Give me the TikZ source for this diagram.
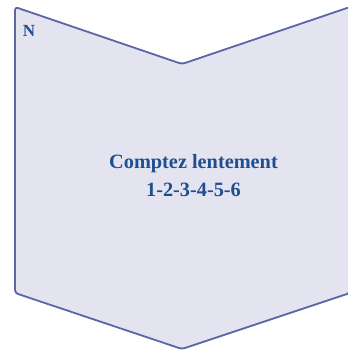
\documentclass[tikz,border=0pt]{standalone}
\usepackage{fontspec}
\setmainfont{Liberation Serif}
\definecolor{shapefill}{HTML}{E4E3F0}
\definecolor{shapedraw}{HTML}{5A66A6}
\definecolor{textblue}{HTML}{1F4F8F}
\tikzset{
  chevron/.style={fill=shapefill, draw=shapedraw, line width=1.8pt, rounded corners=3pt, line join=round},
  label/.style={text=textblue, font=\bfseries, inner sep=0pt},
}
\begin{document}
\begin{tikzpicture}[x=1pt,y=-1pt]
\useasboundingbox (0,0) rectangle (348,351);
\clip (0,0) rectangle (348,351);
\draw[chevron] (15,7) -- (182,64) -- (350,7) -- (350,293) -- (182,349) -- (15,293) -- cycle;
\node[label, font=\bfseries\fontsize{17}{20}\selectfont] (n) at (29,31) {N};
\node[label, align=center, font=\bfseries\fontsize{20.3}{28}\selectfont] (t) at (193.5,176) {Comptez lentement\\1-2-3-4-5-6};
\end{tikzpicture}
\end{document}
